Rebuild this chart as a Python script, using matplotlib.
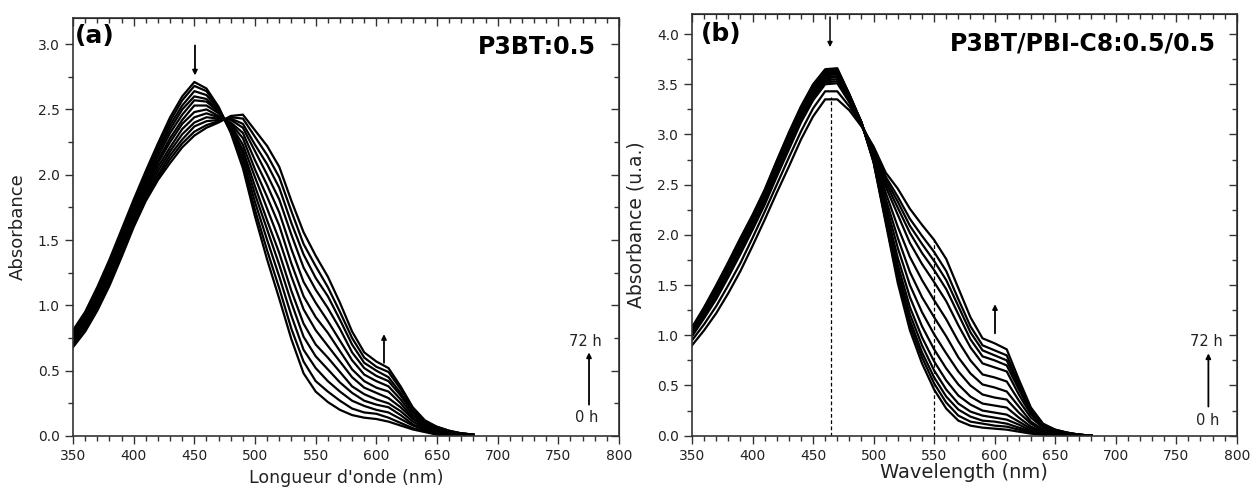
# -*- coding: UTF-8 -*-

import matplotlib.pyplot as plt
from matplotlib.ticker import MultipleLocator

# wavelength grid (nm) shared by both panels
wl = [350, 360, 370, 380, 390, 400, 410, 420, 430, 440, 450, 460, 470, 480, 490, 500, 510,
      520, 530, 540, 550, 560, 570, 580, 590, 600, 610, 620, 630, 640, 650, 660, 670, 680]

# (a) P3BT:0.5 -- spectra, from 0 h to 72 h
a_01 = [0.81, 0.95, 1.14, 1.35, 1.58, 1.81, 2.03, 2.24, 2.44, 2.60, 2.71, 2.66, 2.52, 2.32, 2.05, 1.68, 1.35,
        1.05, 0.74, 0.48, 0.34, 0.26, 0.20, 0.16, 0.14, 0.13, 0.11, 0.08, 0.05, 0.03, 0.01, 0.00, 0.00, 0.00]
a_02 = [0.80, 0.94, 1.13, 1.33, 1.56, 1.79, 2.01, 2.22, 2.41, 2.57, 2.68, 2.64, 2.51, 2.33, 2.08, 1.73, 1.42,
        1.13, 0.82, 0.57, 0.42, 0.34, 0.27, 0.21, 0.18, 0.17, 0.14, 0.10, 0.06, 0.04, 0.01, 0.00, 0.00, 0.00]
a_03 = [0.79, 0.92, 1.11, 1.32, 1.54, 1.77, 1.99, 2.19, 2.38, 2.53, 2.64, 2.61, 2.50, 2.34, 2.12, 1.79, 1.50,
        1.22, 0.92, 0.66, 0.52, 0.42, 0.34, 0.27, 0.23, 0.20, 0.18, 0.13, 0.08, 0.05, 0.02, 0.01, 0.00, 0.00]
a_04 = [0.78, 0.91, 1.09, 1.30, 1.53, 1.76, 1.97, 2.17, 2.35, 2.50, 2.60, 2.58, 2.49, 2.35, 2.16, 1.85, 1.58,
        1.31, 1.02, 0.76, 0.61, 0.51, 0.41, 0.33, 0.27, 0.24, 0.22, 0.16, 0.09, 0.05, 0.03, 0.01, 0.01, 0.00]
a_05 = [0.76, 0.90, 1.08, 1.28, 1.51, 1.74, 1.95, 2.14, 2.32, 2.46, 2.57, 2.56, 2.48, 2.37, 2.19, 1.91, 1.65,
        1.40, 1.11, 0.86, 0.70, 0.60, 0.49, 0.38, 0.32, 0.28, 0.25, 0.19, 0.11, 0.06, 0.03, 0.01, 0.01, 0.00]
a_06 = [0.75, 0.88, 1.06, 1.26, 1.49, 1.72, 1.93, 2.11, 2.28, 2.42, 2.53, 2.53, 2.47, 2.38, 2.23, 1.98, 1.74,
        1.50, 1.22, 0.97, 0.81, 0.69, 0.57, 0.45, 0.37, 0.33, 0.29, 0.22, 0.13, 0.07, 0.04, 0.02, 0.01, 0.00]
a_07 = [0.74, 0.87, 1.04, 1.24, 1.46, 1.69, 1.90, 2.09, 2.25, 2.39, 2.48, 2.50, 2.45, 2.39, 2.28, 2.04, 1.83,
        1.61, 1.32, 1.07, 0.91, 0.79, 0.65, 0.51, 0.42, 0.37, 0.34, 0.25, 0.14, 0.08, 0.04, 0.02, 0.01, 0.01]
a_08 = [0.73, 0.85, 1.02, 1.22, 1.44, 1.67, 1.88, 2.06, 2.21, 2.35, 2.44, 2.47, 2.44, 2.40, 2.32, 2.11, 1.92,
        1.71, 1.43, 1.18, 1.02, 0.88, 0.73, 0.58, 0.47, 0.42, 0.38, 0.28, 0.16, 0.09, 0.05, 0.03, 0.01, 0.01]
a_09 = [0.71, 0.84, 1.01, 1.20, 1.42, 1.65, 1.86, 2.03, 2.18, 2.31, 2.40, 2.44, 2.43, 2.42, 2.36, 2.18, 2.00,
        1.81, 1.54, 1.29, 1.12, 0.98, 0.82, 0.64, 0.52, 0.46, 0.42, 0.31, 0.18, 0.10, 0.06, 0.03, 0.02, 0.01]
a_10 = [0.70, 0.82, 0.99, 1.18, 1.40, 1.63, 1.84, 2.00, 2.15, 2.27, 2.37, 2.41, 2.42, 2.43, 2.39, 2.23, 2.08,
        1.90, 1.63, 1.39, 1.21, 1.07, 0.89, 0.70, 0.56, 0.50, 0.45, 0.33, 0.19, 0.11, 0.06, 0.03, 0.02, 0.01]
a_11 = [0.69, 0.81, 0.97, 1.17, 1.39, 1.62, 1.82, 1.98, 2.12, 2.24, 2.33, 2.38, 2.41, 2.44, 2.43, 2.29, 2.15,
        1.98, 1.72, 1.47, 1.30, 1.14, 0.95, 0.75, 0.60, 0.53, 0.49, 0.36, 0.21, 0.11, 0.07, 0.04, 0.02, 0.01]
a_12 = [0.68, 0.80, 0.96, 1.15, 1.37, 1.60, 1.80, 1.96, 2.09, 2.21, 2.30, 2.36, 2.40, 2.45, 2.46, 2.34, 2.22,
        2.06, 1.80, 1.56, 1.38, 1.22, 1.02, 0.80, 0.64, 0.57, 0.52, 0.38, 0.22, 0.12, 0.07, 0.04, 0.02, 0.01]
spectra_a = [a_01, a_02, a_03, a_04, a_05, a_06, a_07, a_08, a_09, a_10, a_11, a_12]

# (b) P3BT/PBI-C8:0.5/0.5 -- spectra, from 0 h to 72 h
b_01 = [1.08, 1.28, 1.50, 1.73, 1.97, 2.20, 2.45, 2.74, 3.02, 3.28, 3.50, 3.65, 3.66, 3.40, 3.12, 2.72, 2.12,
        1.52, 1.05, 0.72, 0.46, 0.27, 0.15, 0.10, 0.08, 0.07, 0.06, 0.04, 0.02, 0.01, 0.00, 0.00, 0.00, 0.00]
b_02 = [1.07, 1.27, 1.49, 1.72, 1.96, 2.19, 2.44, 2.73, 3.01, 3.27, 3.49, 3.64, 3.65, 3.40, 3.12, 2.73, 2.14,
        1.56, 1.10, 0.78, 0.52, 0.33, 0.20, 0.14, 0.12, 0.10, 0.09, 0.06, 0.03, 0.01, 0.00, 0.00, 0.00, 0.00]
b_03 = [1.07, 1.27, 1.48, 1.71, 1.95, 2.18, 2.43, 2.72, 3.00, 3.26, 3.48, 3.63, 3.64, 3.39, 3.12, 2.73, 2.16,
        1.60, 1.15, 0.83, 0.58, 0.39, 0.26, 0.19, 0.15, 0.14, 0.12, 0.08, 0.04, 0.02, 0.00, 0.00, 0.00, 0.00]
b_04 = [1.06, 1.26, 1.47, 1.70, 1.94, 2.17, 2.42, 2.71, 2.99, 3.25, 3.47, 3.62, 3.63, 3.39, 3.12, 2.74, 2.19,
        1.64, 1.21, 0.90, 0.65, 0.46, 0.32, 0.24, 0.20, 0.18, 0.16, 0.11, 0.05, 0.02, 0.01, 0.00, 0.00, 0.00]
b_05 = [1.06, 1.25, 1.47, 1.69, 1.93, 2.16, 2.41, 2.70, 2.98, 3.24, 3.46, 3.61, 3.62, 3.38, 3.11, 2.75, 2.22,
        1.70, 1.28, 0.98, 0.74, 0.55, 0.40, 0.31, 0.25, 0.23, 0.21, 0.14, 0.07, 0.03, 0.01, 0.01, 0.00, 0.00]
b_06 = [1.05, 1.24, 1.46, 1.68, 1.92, 2.15, 2.40, 2.69, 2.97, 3.23, 3.45, 3.60, 3.61, 3.37, 3.11, 2.76, 2.26,
        1.77, 1.38, 1.09, 0.86, 0.67, 0.51, 0.39, 0.32, 0.30, 0.28, 0.18, 0.09, 0.04, 0.02, 0.01, 0.00, 0.00]
b_07 = [1.04, 1.23, 1.44, 1.67, 1.90, 2.14, 2.39, 2.68, 2.95, 3.21, 3.44, 3.59, 3.60, 3.37, 3.11, 2.78, 2.31,
        1.87, 1.50, 1.23, 1.01, 0.82, 0.64, 0.50, 0.41, 0.38, 0.36, 0.23, 0.12, 0.05, 0.02, 0.01, 0.00, 0.00]
b_08 = [1.04, 1.22, 1.43, 1.65, 1.89, 2.12, 2.38, 2.66, 2.94, 3.20, 3.42, 3.58, 3.58, 3.36, 3.11, 2.80, 2.36,
        1.97, 1.63, 1.38, 1.18, 0.99, 0.78, 0.62, 0.51, 0.48, 0.44, 0.29, 0.14, 0.06, 0.03, 0.01, 0.00, 0.00]
b_09 = [1.03, 1.21, 1.42, 1.64, 1.87, 2.11, 2.36, 2.64, 2.92, 3.18, 3.40, 3.56, 3.57, 3.35, 3.10, 2.82, 2.42,
        2.08, 1.78, 1.55, 1.35, 1.16, 0.94, 0.75, 0.61, 0.58, 0.54, 0.35, 0.18, 0.08, 0.04, 0.02, 0.01, 0.00]
b_10 = [1.02, 1.20, 1.40, 1.62, 1.85, 2.09, 2.34, 2.62, 2.90, 3.16, 3.38, 3.54, 3.55, 3.34, 3.10, 2.84, 2.48,
        2.20, 1.92, 1.71, 1.53, 1.34, 1.10, 0.88, 0.72, 0.68, 0.64, 0.41, 0.21, 0.09, 0.04, 0.02, 0.01, 0.00]
b_11 = [1.00, 1.18, 1.38, 1.60, 1.83, 2.07, 2.32, 2.61, 2.88, 3.14, 3.37, 3.52, 3.53, 3.33, 3.10, 2.85, 2.52,
        2.27, 2.02, 1.82, 1.65, 1.46, 1.21, 0.96, 0.79, 0.75, 0.70, 0.46, 0.23, 0.10, 0.05, 0.02, 0.01, 0.00]
b_12 = [0.99, 1.17, 1.36, 1.58, 1.81, 2.05, 2.30, 2.58, 2.85, 3.12, 3.34, 3.50, 3.51, 3.32, 3.09, 2.86, 2.55,
        2.33, 2.09, 1.91, 1.74, 1.55, 1.29, 1.03, 0.85, 0.80, 0.75, 0.49, 0.24, 0.10, 0.05, 0.03, 0.01, 0.00]
b_13 = [0.95, 1.11, 1.29, 1.50, 1.72, 1.97, 2.23, 2.50, 2.77, 3.03, 3.26, 3.43, 3.43, 3.28, 3.09, 2.87, 2.58,
        2.38, 2.16, 1.99, 1.83, 1.64, 1.36, 1.09, 0.90, 0.85, 0.80, 0.52, 0.26, 0.11, 0.06, 0.03, 0.01, 0.00]
b_14 = [0.90, 1.05, 1.22, 1.42, 1.64, 1.89, 2.15, 2.42, 2.68, 2.95, 3.18, 3.35, 3.35, 3.24, 3.08, 2.88, 2.62,
        2.46, 2.26, 2.10, 1.95, 1.76, 1.47, 1.18, 0.97, 0.92, 0.86, 0.56, 0.28, 0.12, 0.06, 0.03, 0.01, 0.00]
spectra_b = [b_01, b_02, b_03, b_04, b_05, b_06, b_07, b_08, b_09, b_10, b_11, b_12, b_13, b_14]

# dashed markers in (b): wavelength and absorbance of the 72 h curve
mark_wl = [465, 550]
mark_abs = [3.37, 1.95]


def style_axes(ax, ymax, ymajor):
    ax.set_xlim(350, 800)
    ax.set_ylim(0, ymax)
    ax.xaxis.set_major_locator(MultipleLocator(50))
    ax.xaxis.set_minor_locator(MultipleLocator(10))
    ax.yaxis.set_major_locator(MultipleLocator(ymajor))
    ax.yaxis.set_minor_locator(MultipleLocator(ymajor / 2))
    ax.tick_params(which='major', direction='out', length=6, width=1, labelsize=10,
                   labelcolor='#222222', color='#333333')
    ax.tick_params(which='minor', direction='out', length=3.5, width=1, color='#333333')
    for sp in ax.spines.values():
        sp.set_linewidth(1.2)
        sp.set_color('#333333')
    # mirrored ticks on top and right, pointing inwards
    top = ax.secondary_xaxis('top')
    top.xaxis.set_major_locator(MultipleLocator(50))
    top.xaxis.set_minor_locator(MultipleLocator(10))
    top.tick_params(which='both', direction='in', labeltop=False, width=1, color='#333333')
    top.tick_params(which='major', length=6)
    top.tick_params(which='minor', length=3.5)
    right = ax.secondary_yaxis('right')
    right.yaxis.set_major_locator(MultipleLocator(ymajor))
    right.yaxis.set_minor_locator(MultipleLocator(ymajor / 2))
    right.tick_params(which='both', direction='in', labelright=False, width=1, color='#333333')
    right.tick_params(which='major', length=6)
    right.tick_params(which='minor', length=3.5)


def arrow(ax, x, y0, y1, lw=1.3):
    ax.annotate('', xy=(x, y1), xytext=(x, y0),
                arrowprops=dict(arrowstyle='-|>', color='k', lw=lw, mutation_scale=7,
                                shrinkA=0, shrinkB=0))


fig = plt.figure(figsize=(12.53, 4.88), dpi=100)

# ---- panel (a)
ax1 = fig.add_axes([0.0583, 0.1066, 0.4357, 0.8565])
for s in spectra_a:
    ax1.plot(wl, s, color='k', lw=1.6)
style_axes(ax1, 3.2, 0.5)
ax1.set_xlabel("Longueur d'onde (nm)", fontsize=12.5, labelpad=4, color='#222222')
ax1.set_ylabel('Absorbance', fontsize=13, labelpad=8, color='#222222')
ax1.text(0.004, 0.985, '(a)', transform=ax1.transAxes, ha='left', va='top',
         fontsize=18, fontweight='bold')
ax1.text(0.958, 0.93, 'P3BT:0.5', transform=ax1.transAxes, ha='right', va='center',
         fontsize=17, fontweight='bold')
arrow(ax1, 450.5, 2.99, 2.76)
arrow(ax1, 606.3, 0.56, 0.78)
arrow(ax1, 775.3, 0.24, 0.64)
ax1.text(772.6, 0.725, '72 h', ha='center', va='center', fontsize=10.5, color='#222222')
ax1.text(773.6, 0.143, '0 h', ha='center', va='center', fontsize=10.5, color='#222222')

# ---- panel (b)
ax2 = fig.add_axes([0.5523, 0.1072, 0.4347, 0.8641])
for s in spectra_b:
    ax2.plot(wl, s, color='k', lw=1.6)
ax2.vlines(mark_wl, 0, mark_abs, colors='k', linestyles=(0, (3, 2)), lw=0.9)
style_axes(ax2, 4.2, 0.5)
ax2.set_xlabel('Wavelength (nm)', fontsize=14, labelpad=0, color='#222222')
ax2.set_ylabel('Absorbance (u.a.)', fontsize=13.5, labelpad=8, color='#222222')
ax2.text(0.016, 0.982, '(b)', transform=ax2.transAxes, ha='left', va='top',
         fontsize=18, fontweight='bold')
ax2.text(0.962, 0.931, 'P3BT/PBI-C8:0.5/0.5', transform=ax2.transAxes, ha='right', va='center',
         fontsize=17, fontweight='bold')
arrow(ax2, 464, 4.17, 3.87, lw=1.1)
arrow(ax2, 600.3, 1.02, 1.31)
arrow(ax2, 776.6, 0.29, 0.82)
ax2.text(775.2, 0.934, '72 h', ha='center', va='center', fontsize=10.5, color='#222222')
ax2.text(775.7, 0.149, '0 h', ha='center', va='center', fontsize=10.5, color='#222222')

fig.savefig('out.png', dpi=100)
